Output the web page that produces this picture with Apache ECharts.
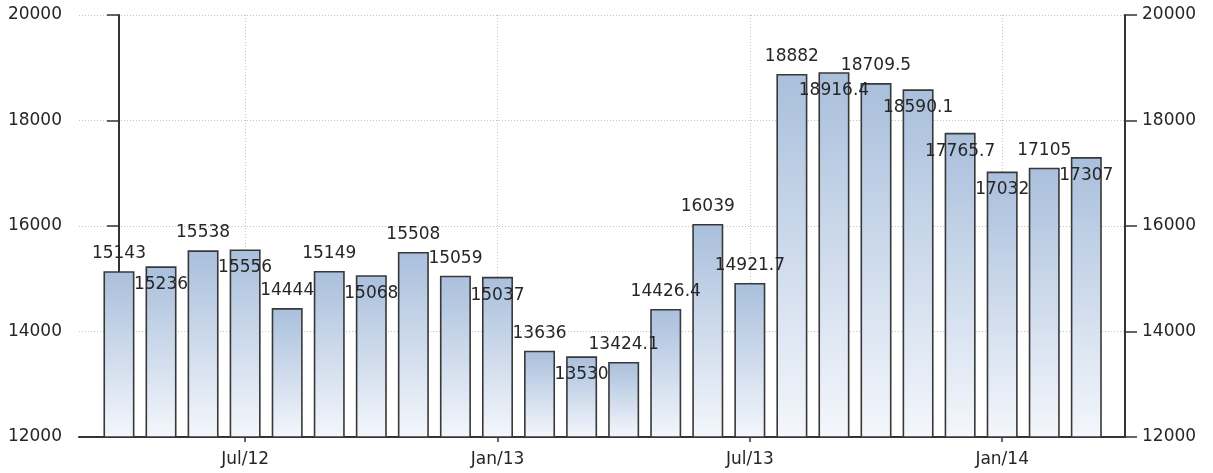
<!DOCTYPE html>
<html>
<head>
<meta charset="utf-8">
<script src="https://cdn.jsdelivr.net/npm/echarts@6/dist/echarts.min.js"></script>
<style>
  html, body { margin: 0; padding: 0; background: #ffffff; }
  #chart { width: 1213px; height: 473px; }
</style>
</head>
<body>
<div id="chart"></div>
<script>
// Monthly values, April 2012 to March 2014
const months = [
  'Apr/12', 'May/12', 'Jun/12', 'Jul/12', 'Aug/12', 'Sep/12', 'Oct/12', 'Nov/12', 'Dec/12',
  'Jan/13', 'Feb/13', 'Mar/13', 'Apr/13', 'May/13', 'Jun/13', 'Jul/13', 'Aug/13', 'Sep/13',
  'Oct/13', 'Nov/13', 'Dec/13', 'Jan/14', 'Feb/14', 'Mar/14'
];
const values = [
  15143, 15236, 15538, 15556, 14444, 15149, 15068, 15508, 15059,
  15037, 13636, 13530, 13424.1, 14426.4, 16039, 14921.7, 18882, 18916.4,
  18709.5, 18590.1, 17765.7, 17032, 17105, 17307
];
// Months that get a tick label on the time axis
const tickMonths = ['Jul/12', 'Jan/13', 'Jul/13', 'Jan/14'];
const yTicks = { min: 12000, max: 20000, step: 2000 };

// Value labels that sit just inside the bar top instead of above it,
// so neighbouring labels don't collide
const insideLabelMonths = ['May/12', 'Jul/12', 'Oct/12', 'Jan/13', 'Mar/13',
  'Sep/13', 'Nov/13', 'Dec/13', 'Jan/14', 'Mar/14'];

const tickIdx = tickMonths.map(m => months.indexOf(m));
const FONT = 'DejaVu Sans';
const FS = 17;
const INK = '#262626';
const AXIS = '#333333';
const GRID = '#c4c4c4';

const barData = values.map((v, i) => ({
  value: [i, v],
  label: insideLabelMonths.includes(months[i])
    ? { position: 'insideTop', distance: 10 }
    : { position: 'top', distance: 9 }
}));

const yAxisCommon = {
  type: 'value',
  min: yTicks.min,
  max: yTicks.max,
  interval: yTicks.step,
  axisLine: { show: true, lineStyle: { color: AXIS, width: 2 } },
  axisTick: { show: true, length: 12, lineStyle: { color: AXIS, width: 1.5 } },
  axisLabel: {
    color: INK, fontFamily: FONT, fontSize: FS, margin: 17,
    formatter: v => String(v)
  },
};

const chart = echarts.init(document.getElementById('chart'), null, { renderer: 'canvas' });
chart.setOption({
  animation: false,
  backgroundColor: '#ffffff',
  grid: { left: 79, right: 88, top: 15, bottom: 36, containLabel: false },
  xAxis: {
    type: 'value',
    min: -0.95,
    max: 23.92,
    axisLine: { show: true, onZero: false, lineStyle: { color: AXIS, width: 2 } },
    axisTick: {
      show: true, length: 5, inside: false,
      customValues: tickIdx,
      lineStyle: { color: AXIS, width: 1.5 }
    },
    axisLabel: {
      customValues: tickIdx,
      formatter: v => months[Math.round(v)],
      color: INK, fontFamily: FONT, fontSize: FS, margin: 14
    },
    splitLine: {
      show: true,
      lineStyle: { color: GRID, type: [1, 2], width: 1 }
    }
  },
  yAxis: [
    Object.assign({}, yAxisCommon, {
      position: 'left',
      splitLine: { show: true, lineStyle: { color: GRID, type: [1, 2], width: 1 } }
    }),
    Object.assign({}, yAxisCommon, {
      position: 'right',
      splitLine: { show: false }
    })
  ],
  series: [{
    type: 'bar',
    yAxisIndex: 0,
    data: barData,
    startValue: yTicks.min,
    barWidth: 31,
    itemStyle: {
      color: new echarts.graphic.LinearGradient(0, 0, 0, 1, [
        { offset: 0, color: '#a9bfdc' },
        { offset: 1, color: '#f4f7fc' }
      ]),
      borderColor: '#383838',
      borderWidth: 1.6
    },
    label: {
      show: true,
      color: INK,
      fontFamily: FONT,
      fontSize: FS,
      formatter: p => String(p.value[1])
    },
    z: 3
  }]
});
</script>
</body>
</html>
